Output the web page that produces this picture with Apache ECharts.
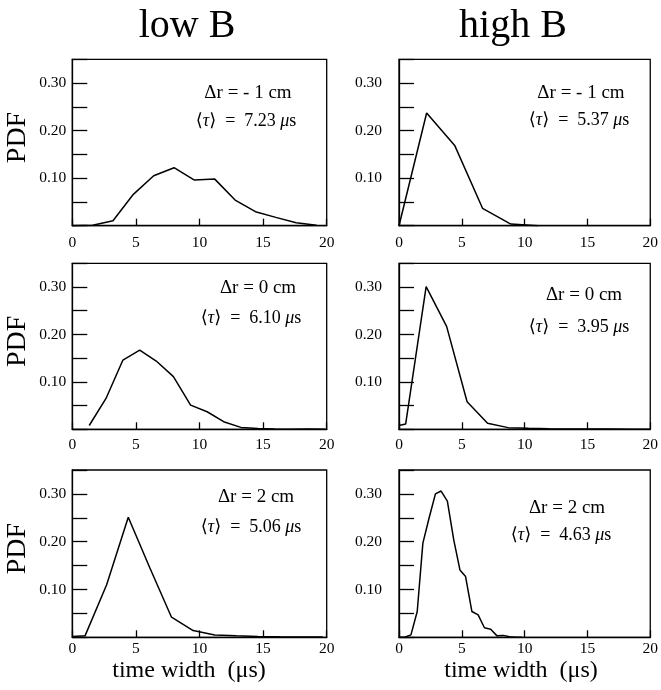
<!DOCTYPE html>
<html>
<head>
<meta charset="utf-8">
<script src="https://cdn.jsdelivr.net/npm/echarts@6/dist/echarts.min.js"></script>
<style>html,body{margin:0;padding:0;background:#fff}#c{width:661px;height:690px}</style>
</head>
<body>
<div id="c"></div>
<script>
// ---- data ----
const columnTitles = ['low B', 'high B'];
const xTickValues = [0, 5, 10, 15, 20];
const yTickValues = [0.10, 0.20, 0.30];
const yTickLabels = ['0.10', '0.20', '0.30'];
const deltaRLabels = ['Δr = - 1 cm', 'Δr = - 1 cm', 'Δr = 0 cm', 'Δr = 0 cm', 'Δr = 2 cm', 'Δr = 2 cm'];
const meanTau = ['7.23', '5.37', '6.10', '3.95', '5.06', '4.63'];

const lowB_m1_x = [0, 1.6, 3.2, 4.8, 6.4, 8.0, 9.6, 11.2, 12.8, 14.4, 16.0, 17.6, 19.2];
const lowB_m1_y = [0, 0.001, 0.0105, 0.066, 0.105, 0.122, 0.096, 0.098, 0.054, 0.0295, 0.0175, 0.0063, 0.0008];

const highB_m1_x = [0, 2.2, 4.45, 6.65, 8.9, 11.1];
const highB_m1_y = [0, 0.237, 0.168, 0.0366, 0.0035, 0.0];

const lowB_0_x = [1.33, 2.65, 3.98, 5.3, 6.6, 7.95, 9.3, 10.6, 11.9, 13.25, 14.6, 15.9, 17.2, 18.55, 19.9];
const lowB_0_y = [0.008, 0.065, 0.146, 0.167, 0.144, 0.111, 0.051, 0.037, 0.016, 0.004, 0.0015, 0.0005, 0.0003, 0.0005, 0.0003];

const highB_0_x = [0, 0.53, 2.16, 3.79, 5.42, 7.05, 8.68, 10.31, 11.94, 13.57, 15.2, 16.83, 18.46, 20];
const highB_0_y = [0.008, 0.011, 0.301, 0.217, 0.058, 0.0127, 0.0035, 0.002, 0.001, 0.0008, 0.0005, 0.0005, 0.0003, 0.0003];

const lowB_2_x = [0, 1.0, 2.7, 4.4, 6.1, 7.8, 9.5, 11.2, 12.9, 14.6, 16.3, 18.0, 19.7];
const lowB_2_y = [0.0015, 0.003, 0.11, 0.251, 0.145, 0.042, 0.014, 0.005, 0.003, 0.0015, 0.001, 0.0008, 0.0005];

const highB_2_x = [0, 0.5, 0.95, 1.45, 1.9, 2.4, 2.9, 3.35, 3.85, 4.35, 4.85, 5.3, 5.8, 6.3, 6.8, 7.3, 7.8, 8.3, 8.8, 9.3, 9.8];
const highB_2_y = [0, 0.0005, 0.005, 0.054, 0.197, 0.25, 0.300, 0.306, 0.285, 0.205, 0.141, 0.127, 0.054, 0.047, 0.020, 0.017, 0.003, 0.004, 0.001, 0.0, 0.0];

const panelsX = [lowB_m1_x, highB_m1_x, lowB_0_x, highB_0_x, lowB_2_x, highB_2_x];
const panelsY = [lowB_m1_y, highB_m1_y, lowB_0_y, highB_0_y, lowB_2_y, highB_2_y];

// ---- layout ----
const SERIF = '"Liberation Serif", "Times New Roman", "DejaVu Serif", serif';
const colLeft = [72.3, 399];
const colWidth = [254.4, 253.7];
const rowTop = [59.3, 263.3, 470];
const rowHeight = [166.4, 166, 167.3];
const xLabelMargin = [9, 8, 4];
const yLabelMargin = [6, 17];
const annoPos = [
  [[248, 93], [246, 121]],
  [[581, 93], [579, 120]],
  [[258, 288], [251, 318]],
  [[584, 295], [579, 327]],
  [[256, 497], [251, 527]],
  [[567, 508], [561, 535]]
];

const grids = [], xAxes = [], yAxes = [], series = [], graphics = [];
for (let i = 0; i < 6; i++) {
  const r = Math.floor(i / 2), c = i % 2;
  grids.push({
    left: colLeft[c], top: rowTop[r], width: colWidth[c], height: rowHeight[r],
    show: true, borderColor: '#000', borderWidth: 1.3, backgroundColor: 'transparent'
  });
  xAxes.push({
    gridIndex: i, type: 'value', min: 0, max: 20, interval: 5,
    axisLine: { show: true, lineStyle: { color: '#000', width: 1.3 } },
    axisTick: { show: true, inside: true, length: 7, lineStyle: { color: '#000', width: 1.3 } },
    splitLine: { show: false },
    axisLabel: {
      color: '#000', fontFamily: SERIF, fontSize: 15.5, margin: xLabelMargin[r],
      formatter: v => xTickValues.indexOf(Math.round(v)) >= 0 ? String(Math.round(v)) : ''
    }
  });
  yAxes.push({
    gridIndex: i, type: 'value', min: 0, max: 0.35, interval: 0.05,
    axisLine: { show: true, lineStyle: { color: '#000', width: 1.3 } },
    axisTick: { show: true, inside: true, length: 15, lineStyle: { color: '#000', width: 1.3 } },
    splitLine: { show: false },
    axisLabel: {
      color: '#000', fontFamily: SERIF, fontSize: 15.5, margin: yLabelMargin[c],
      formatter: v => {
        for (let k = 0; k < yTickValues.length; k++) {
          if (Math.abs(v - yTickValues[k]) < 1e-6) return yTickLabels[k];
        }
        return '';
      }
    }
  });
  series.push({
    type: 'line', xAxisIndex: i, yAxisIndex: i, showSymbol: false, silent: true,
    lineStyle: { color: '#000', width: 1.5 },
    data: panelsX[i].map((x, k) => [x, panelsY[i][k]])
  });
  graphics.push({
    type: 'text', x: annoPos[i][0][0], y: annoPos[i][0][1],
    style: { text: deltaRLabels[i], font: '19px ' + SERIF, fill: '#000', align: 'center', verticalAlign: 'middle' }
  });
  graphics.push({
    type: 'text', x: annoPos[i][1][0], y: annoPos[i][1][1],
    style: {
      text: '{n|⟨}{i|τ}{n|⟩  =  ' + meanTau[i] + ' }{i|μ}{n|s}',
      align: 'center', verticalAlign: 'middle', fill: '#000',
      rich: {
        n: { fontFamily: SERIF, fontSize: 18, fill: '#000' },
        i: { fontFamily: SERIF, fontSize: 18, fontStyle: 'italic', fill: '#000' }
      }
    }
  });
}
// column titles
graphics.push({ type: 'text', x: 187, y: 26, style: { text: columnTitles[0], font: '40px ' + SERIF, fill: '#000', align: 'center', verticalAlign: 'middle' } });
graphics.push({ type: 'text', x: 513, y: 26, style: { text: columnTitles[1], font: '40px ' + SERIF, fill: '#000', align: 'center', verticalAlign: 'middle' } });
// PDF labels
for (let r = 0; r < 3; r++) {
  graphics.push({
    type: 'text', x: 18, y: rowTop[r] + rowHeight[r] / 2 - 5, rotation: Math.PI / 2,
    style: { text: 'PDF', font: '28px ' + SERIF, fill: '#000', align: 'center', verticalAlign: 'middle' }
  });
}
// x axis titles
graphics.push({ type: 'text', x: 189, y: 671, style: { text: 'time width  (μs)', font: '24px ' + SERIF, fill: '#000', align: 'center', verticalAlign: 'middle' } });
graphics.push({ type: 'text', x: 521, y: 671, style: { text: 'time width  (μs)', font: '24px ' + SERIF, fill: '#000', align: 'center', verticalAlign: 'middle' } });

const chart = echarts.init(document.getElementById('c'), null, { renderer: 'canvas' });
chart.setOption({
  animation: false,
  backgroundColor: '#fff',
  grid: grids, xAxis: xAxes, yAxis: yAxes, series: series,
  graphic: graphics
});
</script>
</body>
</html>
